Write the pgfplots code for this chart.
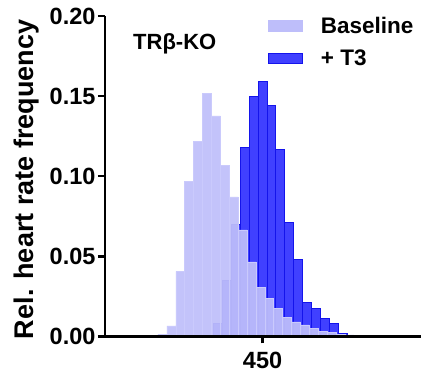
\documentclass[border=0pt]{standalone}
\usepackage{fontspec}
\setmainfont{Liberation Sans}
\usepackage{pgfplots}
\pgfplotsset{compat=1.18}
\definecolor{lav}{RGB}{190,190,250}
\definecolor{lavedge}{RGB}{202,202,252}
\definecolor{tblue}{RGB}{64,64,255}
\definecolor{tedge}{RGB}{20,20,235}
\begin{document}
\begin{tikzpicture}
\begin{axis}[
  at={(0,0)}, anchor=south west,
  scale only axis, width=316pt, height=320.5pt,
  xmin=273, xmax=628, ymin=0, ymax=0.2,
  axis x line*=bottom, axis y line*=left,
  axis line style={line width=2.4pt, black},
  axis on top,
  xtick={450}, ytick={0,0.05,0.1,0.15,0.2},
  yticklabel style={xshift=1pt, /pgf/number format/.cd, fixed, fixed zerofill, precision=2, assume math mode=true},
  xticklabel style={yshift=-5pt, /pgf/number format/assume math mode=true},
  scaled y ticks=false,
  tick align=outside, major tick length=7pt,
  tick style={line width=2.4pt, black},
  minor tick num=0,
  ticklabel style={font=\fontsize{23.5}{27}\selectfont\bfseries},
  ylabel={Rel. heart rate frequency},
  ylabel style={font=\fontsize{27}{31}\selectfont\bfseries, at={(axis description cs:-0.247,0.49)}, anchor=center},
  legend style={at={(axis description cs:0.515,0.997)}, anchor=north west, draw=none, fill=none,
    inner sep=0pt, outer sep=0pt, font=\fontsize{22.5}{26}\selectfont\bfseries, row sep=15pt,
    nodes={inner sep=0pt}, /tikz/every odd column/.append style={column sep=18pt}},
  legend cell align=left,
]
\addplot[ybar, bar width=10, bar shift=0pt, fill=tblue, draw=tedge, line width=0.9pt, forget plot] coordinates {
(400,0.008) (410,0.035) (420,0.070) (430,0.1177) (440,0.150) (450,0.159) (460,0.144) (470,0.1166)
(480,0.0713) (490,0.0482) (500,0.0213) (510,0.0176) (520,0.0114) (530,0.0082) (540,0.002)
};
\addplot[ybar, bar width=10, bar shift=0pt, fill=lav, fill opacity=0.93, draw=lavedge, line width=0.5pt, forget plot] coordinates {
(337.5,0.0015) (347.5,0.0066) (357.5,0.0406) (367.5,0.0966) (377.5,0.1216) (387.5,0.1516)
(397.5,0.1376) (407.5,0.1066) (417.5,0.0872) (427.5,0.0666) (437.5,0.0466) (447.5,0.0306)
(457.5,0.024) (467.5,0.0176) (477.5,0.012) (487.5,0.0092) (497.5,0.0072) (507.5,0.0051)
(517.5,0.0034) (527.5,0.0024) (537.5,0.0015) (547.5,0.001)
};
\addlegendimage{legend image code/.code={\fill[lav] (0pt,-5.5pt) rectangle (34pt,5.5pt);}}
\addlegendentry{Baseline}
\addlegendimage{legend image code/.code={\fill[tblue, draw=tedge, line width=1.2pt] (0pt,-5pt) rectangle (34pt,5pt);}}
\addlegendentry{+ T3}
\node[anchor=base west, font=\fontsize{22}{26}\selectfont\bfseries, inner sep=0pt] at (axis description cs:0.0886,0.894) {TRβ-KO};
\end{axis}
\pgfresetboundingbox
\path[use as bounding box] (-105pt,-40.5pt) rectangle (316pt,336.5pt);
\end{tikzpicture}
\end{document}
